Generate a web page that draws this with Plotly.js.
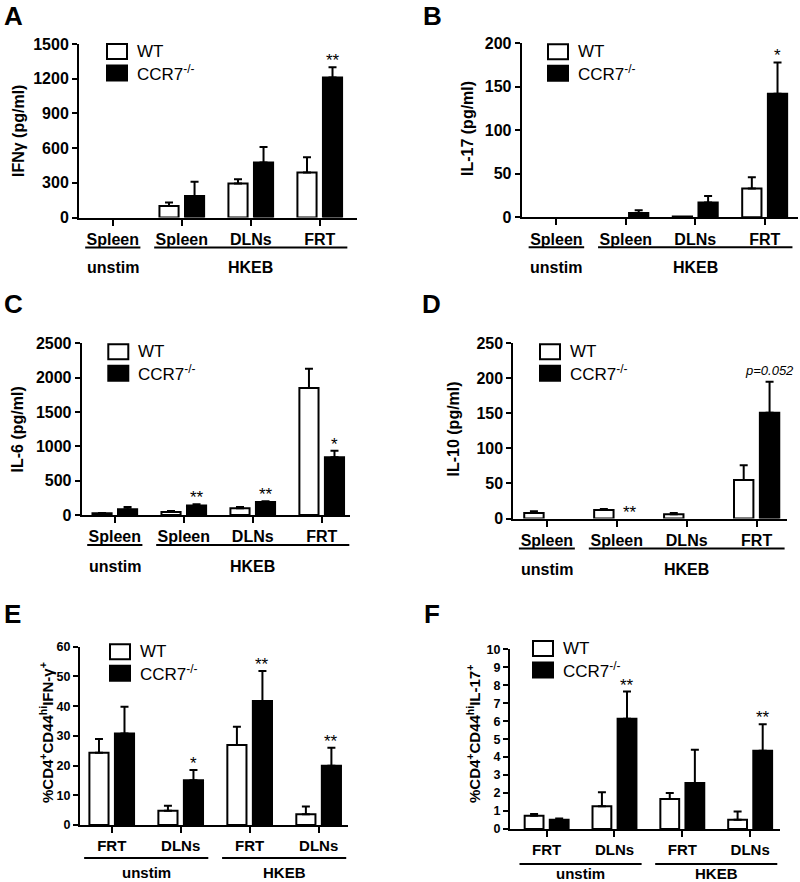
<!DOCTYPE html>
<html><head><meta charset="utf-8">
<script src="https://cdn.plot.ly/plotly-3.0.1.min.js"></script>
<style>html,body{margin:0;padding:0;background:#fff}#chart{width:800px;height:882px}</style>
</head><body><div id="chart"></div>
<script>
// ---------- categories & labels ----------
const catsTop = ["unstim Spleen", "HKEB Spleen", "HKEB DLNs", "HKEB FRT"];
const tickTop = ["Spleen", "Spleen", "DLNs", "FRT"];
const groupsTop = [["unstim", 0, 0], ["HKEB", 1, 3]];
const catsBottom = ["unstim FRT", "unstim DLNs", "HKEB FRT", "HKEB DLNs"];
const tickBottom = ["FRT", "DLNs", "FRT", "DLNs"];
const groupsBottom = [["unstim", 0, 1], ["HKEB", 2, 3]];
const seriesNames = ["WT", "CCR7<sup>-/-</sup>"];

// ---------- A: IFNγ (pg/ml) ----------
const ifngWT = [0, 100, 295, 390];
const ifngWTerr = [0, 30, 35, 130];
const ifngKO = [0, 185, 475, 1210];
const ifngKOerr = [0, 124, 135, 90];
const ifngSig = ["", "", "", "**"];

// ---------- B: IL-17 (pg/ml) ----------
const il17WT = [0, 0, 1, 33];
const il17WTerr = [0, 0, 0, 13];
const il17KO = [0, 5, 17, 142];
const il17KOerr = [0, 3, 7.5, 36];
const il17Sig = ["", "", "", "*"];

// ---------- C: IL-6 (pg/ml) ----------
const il6WT = [25, 45, 100, 1850];
const il6WTerr = [5, 12, 15, 280];
const il6KO = [85, 140, 190, 840];
const il6KOerr = [30, 15, 10, 95];
const il6Sig = ["", "**", "**", "*"];

// ---------- D: IL-10 (pg/ml) ----------
const il10WT = [8, 12, 6, 55];
const il10WTerr = [2.5, 1.5, 2, 21];
const il10KO = [0, 0, 0, 151];
const il10KOerr = [0, 0, 0, 44];
const il10Sig = ["", "**", "", "p=0.052"];

// ---------- E: %CD4+CD44hi IFN-γ+ ----------
const ifnPctWT = [24.3, 4.8, 26.9, 3.6];
const ifnPctWTerr = [4.6, 1.7, 6.2, 2.6];
const ifnPctKO = [30.8, 15.1, 41.7, 19.9];
const ifnPctKOerr = [9, 3.4, 10.1, 6.1];
const ifnPctSig = ["", "*", "**", "**"];

// ---------- F: %CD4+CD44hi IL-17+ ----------
const il17PctWT = [0.74, 1.26, 1.67, 0.52];
const il17PctWTerr = [0.09, 0.78, 0.33, 0.46];
const il17PctKO = [0.52, 6.13, 2.56, 4.35];
const il17PctKOerr = [0.07, 1.52, 1.85, 1.48];
const il17PctSig = ["", "**", "", "**"];

// ---------- layout helpers ----------
const W = 800, H = 882;
const px = x => x / W, py = y => 1 - y / H;
const FONT = "Arial, 'Liberation Sans', Helvetica, sans-serif";
const OFF = 0.185; // half distance between grouped bars, in category units

const panels = [
  {letter: "A", ytitle: "IFNγ (pg/ml)", cats: catsTop, ticks: tickTop, groups: groupsTop,
   wt: ifngWT, wtErr: ifngWTerr, ko: ifngKO, koErr: ifngKOerr, sig: ifngSig,
   ymax: 1500, dtick: 300, xd: [79, 357], xr: [-0.49, 3.54], yd: [44, 217.5],
   letterPos: [2, 15.5], ytitlePos: [19, 131], legend: [107, 44],
   ytick: 16, xtick: 16, gsize: 16, tsize: 16, brOff: 30, gOff: 50},
  {letter: "B", ytitle: "IL-17 (pg/ml)", cats: catsTop, ticks: tickTop, groups: groupsTop,
   wt: il17WT, wtErr: il17WTerr, ko: il17KO, koErr: il17KOerr, sig: il17Sig,
   ymax: 200, dtick: 50, xd: [521.7, 798], xr: [-0.5, 3.48], yd: [43.3, 217.3],
   letterPos: [421, 15.5], ytitlePos: [467, 129], legend: [548, 44.3],
   ytick: 16, xtick: 16, gsize: 16, tsize: 16, brOff: 30, gOff: 50},
  {letter: "C", ytitle: "IL-6 (pg/ml)", cats: catsTop, ticks: tickTop, groups: groupsTop,
   wt: il6WT, wtErr: il6WTerr, ko: il6KO, koErr: il6KOerr, sig: il6Sig,
   ymax: 2500, dtick: 500, xd: [81.7, 350], xr: [-0.48, 3.41], yd: [343.3, 515],
   letterPos: [2, 304], ytitlePos: [17.5, 430], legend: [108.3, 344.3],
   ytick: 16, xtick: 16, gsize: 16, tsize: 16, brOff: 30, gOff: 51},
  {letter: "D", ytitle: "IL-10 (pg/ml)", cats: catsTop, ticks: tickTop, groups: groupsTop,
   wt: il10WT, wtErr: il10WTerr, ko: il10KO, koErr: il10KOerr, sig: il10Sig,
   ymax: 250, dtick: 50, xd: [513.3, 786.7], xr: [-0.48, 3.43], yd: [343.3, 518.5],
   letterPos: [420, 304], ytitlePos: [452.5, 429], legend: [540, 344.3],
   ytick: 16, xtick: 16, gsize: 16, tsize: 16, brOff: 30, gOff: 51},
  {letter: "E", ytitle: "%CD4<sup>+</sup>CD44<sup>hi</sup>IFN-γ<sup>+</sup>", cats: catsBottom, ticks: tickBottom, groups: groupsBottom,
   wt: ifnPctWT, wtErr: ifnPctWTerr, ko: ifnPctKO, koErr: ifnPctKOerr, sig: ifnPctSig,
   ymax: 60, dtick: 10, xd: [80, 348.3], xr: [-0.46, 3.43], yd: [646.7, 825],
   letterPos: [2, 613.5], ytitlePos: [46, 733], legend: [110, 644.3],
   ytick: 12.5, xtick: 15, gsize: 15, tsize: 15, brOff: 33, gOff: 47},
  {letter: "F", ytitle: "%CD4<sup>+</sup>CD44<sup>hi</sup>IL-17<sup>+</sup>", cats: catsBottom, ticks: tickBottom, groups: groupsBottom,
   wt: il17PctWT, wtErr: il17PctWTerr, ko: il17PctKO, koErr: il17PctKOerr, sig: il17PctSig,
   ymax: 10, dtick: 1, xd: [510, 780], xr: [-0.54, 3.44], yd: [649.3, 829],
   letterPos: [421.5, 613.5], ytitlePos: [473, 734], legend: [533, 641],
   ytick: 12.5, xtick: 15, gsize: 15, tsize: 15, brOff: 35, gOff: 44}
];

const data = [];
const annotations = [];
const shapes = [];
const layout = {
  width: W, height: H, margin: {l: 0, r: 0, t: 0, b: 0},
  paper_bgcolor: "#fff", plot_bgcolor: "#fff",
  barmode: "group", bargap: 0.26, bargroupgap: 0.25,
  showlegend: false, font: {family: FONT, color: "#000"}
};

panels.forEach((p, k) => {
  const ax = k === 0 ? "" : String(k + 1);
  const xa = "x" + ax, ya = "y" + ax;
  // error bars: upper side only, none where the error is zero
  const errBar = arr => ({type: "data", symmetric: false,
                          array: arr.map(e => (e > 0 ? e : NaN)),
                          arrayminus: arr.map(e => (e > 0 ? 0 : NaN)),
                          color: "#000", thickness: 2, width: 4});
  // zero-height bars are not drawn at all
  const outline = vals => vals.map(v => (v > 0 ? 2 : 0));
  const vis = vals => vals.map(v => (v > 0 ? 1 : 0));
  data.push({type: "bar", name: seriesNames[0], x: p.cats, y: p.wt, xaxis: xa, yaxis: ya,
             marker: {color: "#ffffff", opacity: vis(p.wt), line: {color: "#000", width: outline(p.wt)}},
             error_y: errBar(p.wtErr), hoverinfo: "skip", showlegend: false});
  data.push({type: "bar", name: seriesNames[1], x: p.cats, y: p.ko, xaxis: xa, yaxis: ya,
             marker: {color: "#000000", opacity: vis(p.ko), line: {color: "#000", width: outline(p.ko)}},
             error_y: errBar(p.koErr), hoverinfo: "skip", showlegend: false});

  layout["xaxis" + ax] = {
    domain: [px(p.xd[0]), px(p.xd[1])], range: p.xr, type: "category", anchor: ya,
    tickmode: "array", tickvals: p.cats, ticktext: p.ticks,
    ticks: "outside", ticklen: 6, tickwidth: 2, tickcolor: "#000",
    showline: true, linewidth: 2, linecolor: "#000", showgrid: false, zeroline: false,
    tickfont: {family: FONT, size: p.xtick, color: "#000", weight: "bold"}, fixedrange: true
  };
  layout["yaxis" + ax] = {
    domain: [py(p.yd[1]), py(p.yd[0])], range: [0, p.ymax], anchor: xa,
    tick0: 0, dtick: p.dtick, ticks: "outside", ticklen: 5, tickwidth: 2, tickcolor: "#000",
    showline: true, linewidth: 2, linecolor: "#000", showgrid: false, zeroline: false,
    tickfont: {family: FONT, size: p.ytick, color: "#000", weight: "bold"}, fixedrange: true
  };

  // panel letter
  annotations.push({xref: "paper", yref: "paper", x: px(p.letterPos[0]), y: py(p.letterPos[1]),
    xanchor: "left", yanchor: "middle", showarrow: false, text: p.letter,
    font: {family: FONT, size: 26, color: "#000", weight: "bold"}});
  // y title
  annotations.push({xref: "paper", yref: "paper", x: px(p.ytitlePos[0]), y: py(p.ytitlePos[1]),
    xanchor: "center", yanchor: "middle", showarrow: false, textangle: -90, text: p.ytitle,
    font: {family: FONT, size: p.tsize, color: "#000", weight: "bold"}});

  // group brackets and labels
  p.groups.forEach(g => {
    shapes.push({type: "line", xref: xa, yref: "paper", x0: g[1] - 0.4, x1: g[2] + 0.4,
      y0: py(p.yd[1] + p.brOff), y1: py(p.yd[1] + p.brOff), line: {color: "#000", width: 2}});
    annotations.push({xref: xa, yref: "paper", x: (g[1] + g[2]) / 2, y: py(p.yd[1] + p.gOff),
      xanchor: "center", yanchor: "middle", showarrow: false, text: g[0],
      font: {family: FONT, size: p.gsize, color: "#000", weight: "bold"}});
  });

  // significance marks above CCR7 bars
  p.sig.forEach((s, i) => {
    if (!s) return;
    const italic = s.indexOf("p=") === 0;
    annotations.push({xref: xa, yref: ya, x: i + OFF, y: p.ko[i] + p.koErr[i],
      xanchor: "center", yanchor: "bottom", yshift: italic ? 2 : -5, showarrow: false, text: s,
      font: {family: FONT, size: italic ? 13 : 17, color: "#000", style: italic ? "italic" : "normal"}});
  });

  // legend boxes
  const [lx, ly] = p.legend;
  [0, 1].forEach(j => {
    const top = ly + j * 21.5;
    shapes.push({type: "rect", xref: "paper", yref: "paper",
      x0: px(lx), x1: px(lx + 20), y0: py(top + 15), y1: py(top),
      fillcolor: j === 0 ? "#fff" : "#000", line: {color: "#000", width: 2}});
    annotations.push({xref: "paper", yref: "paper", x: px(lx + 28), y: py(top + 7.5),
      xanchor: "left", yanchor: "middle", showarrow: false, text: seriesNames[j],
      font: {family: FONT, size: 17, color: "#000"}});
  });
});

layout.annotations = annotations;
layout.shapes = shapes;
Plotly.newPlot("chart", data, layout, {staticPlot: true, displayModeBar: false});
</script>
</body></html>
